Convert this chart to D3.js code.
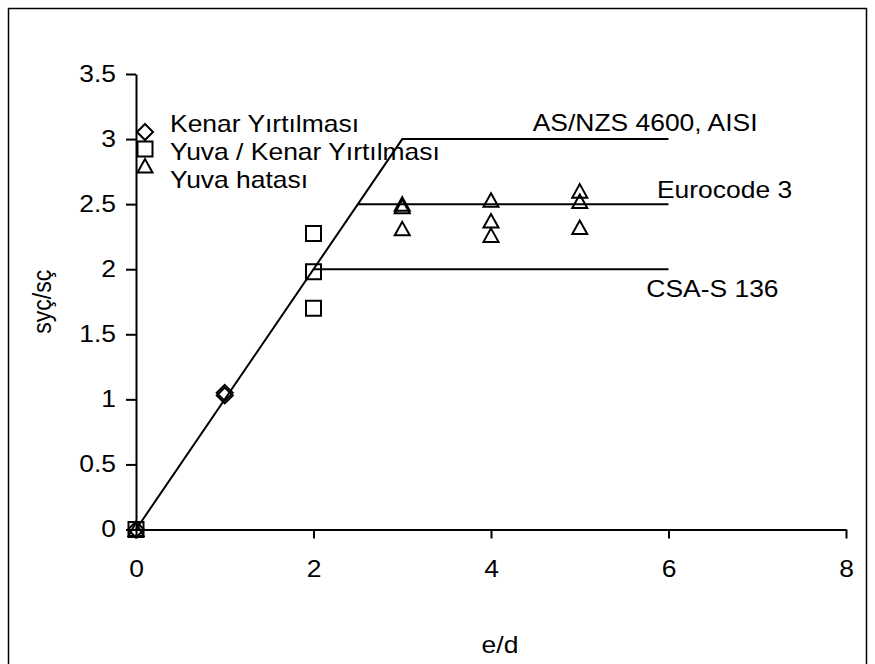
<!DOCTYPE html>
<html>
<head>
<meta charset="utf-8">
<script src="https://cdn.jsdelivr.net/npm/d3@7"></script>
<style>
  body { margin: 0; background: #fff; }
  svg text { font-family: "Liberation Sans", Arial, sans-serif; fill: #000; }
</style>
</head>
<body>
<svg id="chart" width="875" height="664"></svg>
<script>
// Data
const kenarPts = [[0, 0], [1, 1.03], [1, 1.05]];
const yuvaKenarPts = [[0, 0], [2, 2.275], [2, 1.98], [2, 1.70]];
const yuvaPts = [[0, 0], [3, 2.50], [3, 2.48], [3, 2.31], [4, 2.53], [4, 2.37], [4, 2.26], [5, 2.60], [5, 2.52], [5, 2.32]];

const asLine = [[0, 0], [3, 3], [6, 3]];
const euroLine = [[2.5, 2.5], [6, 2.5]];
const csaLine = [[2, 2], [6, 2]];

const lineLabels = [
    {text: "AS/NZS 4600, AISI", x: 4.47, y: 3.06},
    {text: "Eurocode 3", x: 5.87, y: 2.55},
    {text: "CSA-S 136", x: 5.75, y: 1.79}
];

const legendItems = ["Kenar Yırtılması", "Yuva / Kenar Yırtılması", "Yuva hatası"];
const xTicks = [0, 2, 4, 6, 8];
const yTicks = [0, 0.5, 1, 1.5, 2, 2.5, 3, 3.5];

// the original picture is stretched sideways a little
const stretch = 1.15;
const fontSize = "23px";

const svg = d3.select("#chart");
const margin = {top: 74, right: 29, bottom: 134.5, left: 136};
const width = 875 - margin.left - margin.right;
const height = 664 - margin.top - margin.bottom;

// outer frame
svg.append("rect")
    .attr("x", 8.5).attr("y", 8.5)
    .attr("width", 858).attr("height", 700)
    .attr("fill", "none").attr("stroke", "#000").attr("stroke-width", 1.5);

const g = svg.append("g").attr("transform", `translate(${margin.left},${margin.top})`);

const x = d3.scaleLinear().domain([0, 8]).range([0, width]);
const y = d3.scaleLinear().domain([0, 3.5]).range([height, 0]);

function addText(parent, tx, ty, str, anchor) {
    return parent.append("text")
        .attr("transform", `translate(${tx},${ty}) scale(${stretch},1)`)
        .attr("text-anchor", anchor || "start")
        .attr("font-size", fontSize)
        .text(str);
}

// X axis
const xAxis = g.append("g")
    .attr("transform", `translate(0,${height})`)
    .call(d3.axisBottom(x).tickValues(xTicks).tickFormat(d3.format("d")).tickSize(9).tickSizeOuter(0));
xAxis.select(".domain").attr("stroke-width", 2);
xAxis.selectAll(".tick line").attr("stroke-width", 2);
xAxis.selectAll("text")
    .attr("font-size", fontSize)
    .attr("y", 47.5).attr("dy", 0)
    .attr("transform", `scale(${stretch},1)`);

// Y axis
const yAxis = g.append("g")
    .call(d3.axisLeft(y).tickValues(yTicks).tickFormat(d => d).tickSize(10).tickSizeOuter(0));
yAxis.select(".domain").attr("stroke-width", 2);
yAxis.selectAll(".tick line").attr("stroke-width", 2);
yAxis.selectAll("text")
    .attr("font-size", fontSize)
    .attr("x", -20 / stretch)
    .attr("transform", `scale(${stretch},1)`);

// Axis titles
addText(svg, 500, 653, "e/d", "middle");
svg.append("text")
    .attr("transform", `translate(51,${margin.top + y(1.75)}) scale(${stretch},1) rotate(-90)`)
    .attr("text-anchor", "middle")
    .attr("font-size", fontSize)
    .text("syç/sç");

// Design lines
const line = d3.line().x(d => x(d[0])).y(d => y(d[1]));
[asLine, euroLine, csaLine].forEach(l => {
    g.append("path").datum(l)
        .attr("d", line)
        .attr("fill", "none")
        .attr("stroke", "#000")
        .attr("stroke-width", 2);
});

lineLabels.forEach(d => addText(g, x(d.x), y(d.y), d.text));

// Markers
const diamond = `M0,-8L8,0L0,8L-8,0Z`;
const square = `M-7.5,-7.5H7.5V7.5H-7.5Z`;
const triangle = `M0,-7L7.5,6.5H-7.5Z`;
const shapes = [diamond, square, triangle];

function drawPoints(pts, shape) {
    g.selectAll(null)
        .data(pts)
        .enter().append("path")
        .attr("transform", d => `translate(${x(d[0])},${y(d[1])})`)
        .attr("d", shape)
        .attr("fill", "none")
        .attr("stroke", "#000")
        .attr("stroke-width", 2);
}
drawPoints(kenarPts, shapes[0]);
drawPoints(yuvaKenarPts, shapes[1]);
drawPoints(yuvaPts, shapes[2]);

// Legend
const legend = svg.append("g").attr("transform", "translate(145,132)");
legendItems.forEach((label, i) => {
    legend.append("path")
        .attr("transform", `translate(0,${i * 17})`)
        .attr("d", shapes[i])
        .attr("fill", "#fff")
        .attr("stroke", "#000")
        .attr("stroke-width", 2);
    addText(legend, 25, i * 28 - 0.5, label);
});
</script>
</body>
</html>
